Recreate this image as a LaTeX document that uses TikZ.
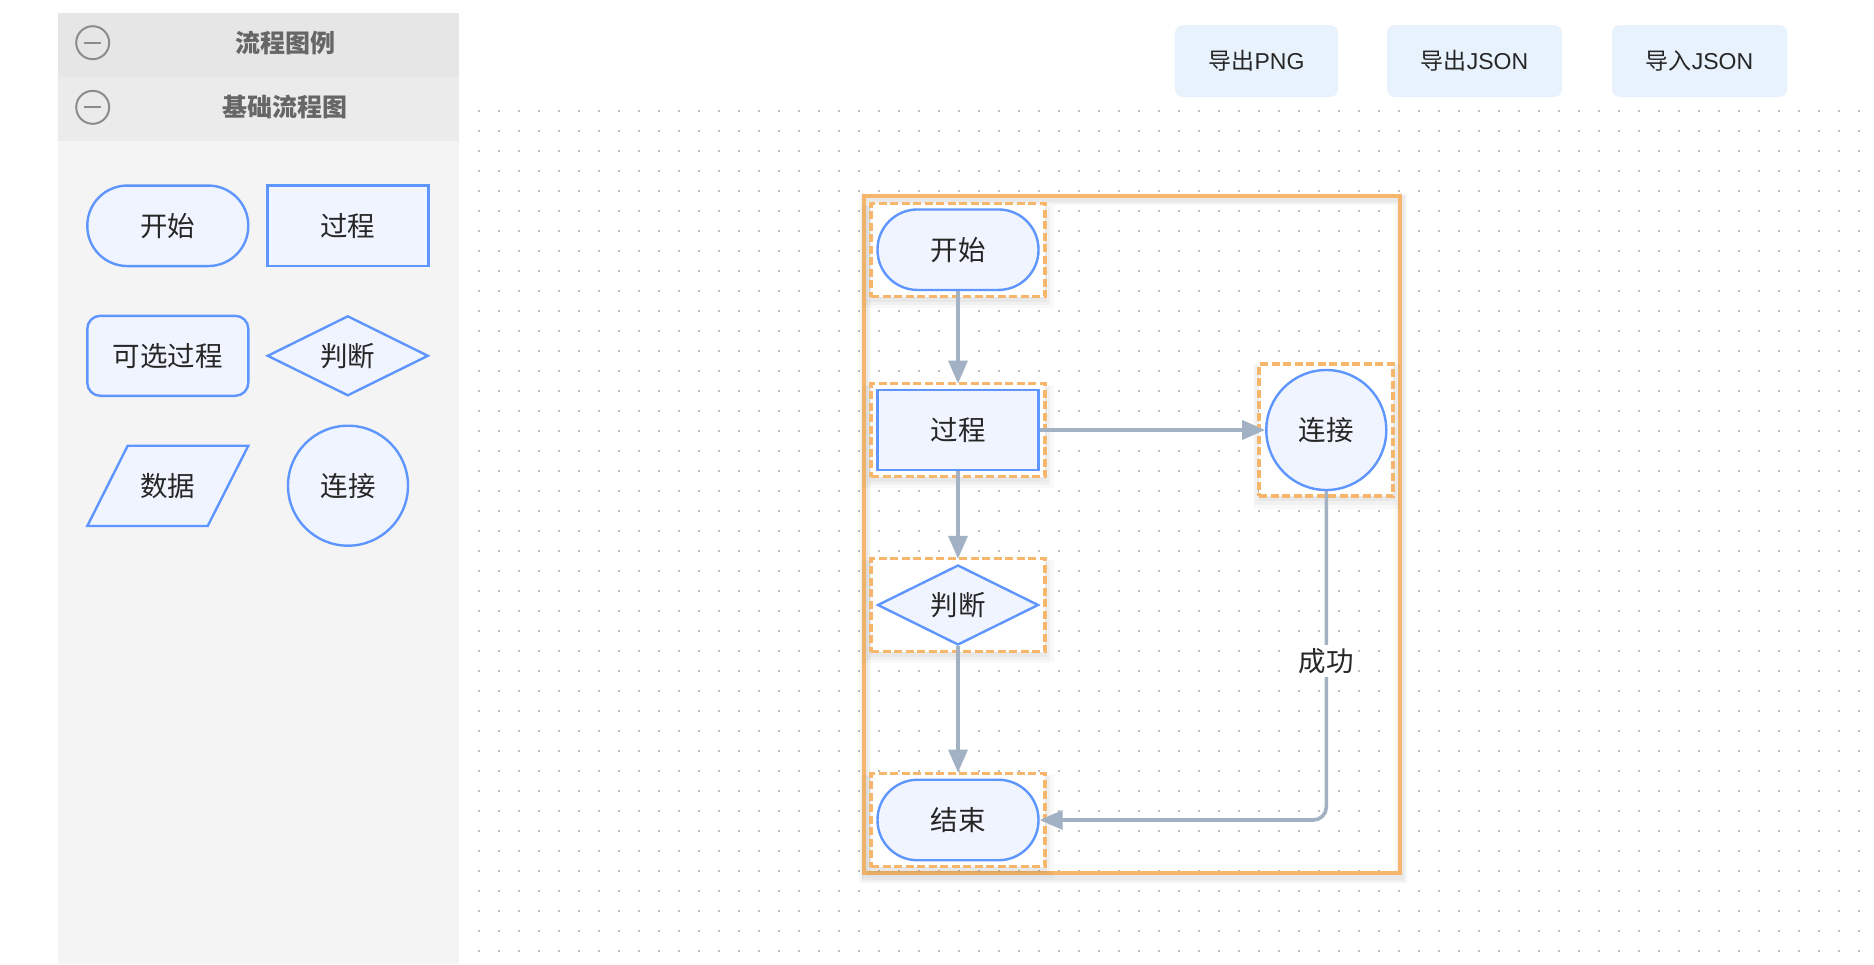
\documentclass[tikz,border=0pt]{standalone}
\usepackage{fontspec}
\setmainfont{Noto Sans CJK SC}
\newfontfamily\latfont{Liberation Sans}
\usetikzlibrary{shapes.geometric,arrows.meta,shadows}
\definecolor{nodefill}{HTML}{EFF4FF}
\definecolor{nodeline}{HTML}{5F95FF}
\definecolor{edgec}{HTML}{A2B1C3}
\definecolor{selc}{HTML}{F6B76C}
\definecolor{txt}{HTML}{262626}
\definecolor{hdrtxt}{HTML}{666666}
\definecolor{panelbg}{HTML}{F4F4F4}
\definecolor{hdrone}{HTML}{E6E6E6}
\definecolor{hdrtwo}{HTML}{EBEBEB}
\definecolor{btnbg}{HTML}{E8F2FC}
\definecolor{dotc}{HTML}{BBBBBB}
\definecolor{iconc}{HTML}{8C8C8C}
\begin{document}
\begin{tikzpicture}[x=1pt,y=-1pt,
  shapebase/.style={draw=nodeline, fill=nodefill, line width=2.4pt, text=txt,
    font=\fontsize{27.5}{32}\selectfont, inner sep=0pt},
  terminal/.style={shapebase, rectangle, rounded corners=40pt, minimum width=161pt, minimum height=80.5pt},
  procbox/.style={shapebase, rectangle, minimum width=161pt, minimum height=80.5pt},
  altbox/.style={shapebase, rectangle, rounded corners=13pt, minimum width=161pt, minimum height=80pt},
  decbox/.style={shapebase, diamond, aspect=2, minimum width=161pt, minimum height=80pt},
  connbox/.style={shapebase, circle, minimum size=120pt},
  selbox/.style={draw=selc, fill=white, line width=3.8pt, dash pattern=on 8pt off 3.5pt, inner sep=0pt,
    general shadow={fill=black, opacity=0.035, shadow yshift=-4pt, shadow scale=1.02},
    general shadow={fill=black, opacity=0.03, shadow yshift=-5pt, shadow scale=1.06},
    general shadow={fill=black, opacity=0.025, shadow yshift=-6pt, shadow scale=1.10}},
  flowarrow/.style={draw=edgec, line width=3.6pt, -{Triangle[length=23pt,width=19pt]}},
  btn/.style={fill=btnbg, rounded corners=8pt, minimum height=72pt, text=txt,
    font=\fontsize{23}{26}\selectfont, inner sep=0pt},
  hdr/.style={text=hdrtxt, font=\fontsize{25}{28}\selectfont\bfseries},
  icon/.style={draw=iconc, line width=2pt},
  lbl/.style={text=txt, font=\fontsize{27.5}{32}\selectfont}
]
\useasboundingbox (0,0) rectangle (1874,964);
\fill[white] (0,0) rectangle (1874,964);

% left panel
\fill[panelbg] (58.3,13.3) rectangle (459,964);
\fill[hdrone] (58.3,13.3) rectangle (459,76.7);
\fill[hdrtwo] (58.3,76.7) rectangle (459,141);
\node[icon, circle, minimum size=33pt, inner sep=0pt] (icona) at (92.7,42.7) {};
\draw[icon] ([xshift=-8.5pt]icona.center) -- ([xshift=8.5pt]icona.center);
\node[icon, circle, minimum size=33pt, inner sep=0pt] (iconb) at (92.7,107.3) {};
\draw[icon] ([xshift=-8.5pt]iconb.center) -- ([xshift=8.5pt]iconb.center);
\node[hdr] (titlea) at (285,42.7) {流程图例};
\node[hdr] (titleb) at (285,107.3) {基础流程图};

% legend shapes
\node[terminal] (lgstart) at (167.8,225.8) {开始};
\node[procbox] (lgproc) at (347.8,225.8) {过程};
\node[altbox] (lgalt) at (167.8,355.8) {可选过程};
\node[decbox] (lgdec) at (347.8,355.8) {判断};
\filldraw[shapebase] (127.7,445.7) -- (248.3,445.7) -- (207.7,526) -- (87.3,526) -- cycle;
\node[lbl] (lgdata) at (167.8,485.8) {数据};
\node[connbox] (lgconn) at (348,485.7) {连接};

% buttons
\node[btn, minimum width=163pt] (btnpng) at (1256.5,61) {导出{\latfont PNG}};
\node[btn, minimum width=175pt] (btnjsonout) at (1474.5,61) {导出{\latfont JSON}};
\node[btn, minimum width=175pt] (btnjsonin) at (1699.5,61) {导入{\latfont JSON}};

% dot grid
\foreach \i in {0,...,69} {
  \foreach \j in {0,...,42} {
    \fill[dotc] (478+\i*20,110+\j*20) rectangle ++(2,2);
  }
}

% outer selection frame with soft shadow
\foreach \w/\o in {12/0.025,9/0.03,6/0.035} {
  \draw[black, opacity=\o, line width=\w pt] (865,199) rectangle (1401,877);
}
\draw[selc, line width=3.8pt] (864,195.7) rectangle (1400,873.3);

% selection boxes
\node[selbox, minimum width=174pt, minimum height=93pt] (startsel) at (958,250) {};
\node[selbox, minimum width=174pt, minimum height=93pt] (procsel) at (958,430) {};
\node[selbox, minimum width=174pt, minimum height=93pt] (decsel) at (958,605) {};
\node[selbox, minimum width=174pt, minimum height=93pt] (endsel) at (958,820) {};
\node[selbox, minimum width=134pt, minimum height=132pt] (connsel) at (1326.3,430) {};

% flow nodes
\node[terminal] (start) at (958,249.7) {开始};
\node[procbox] (proc) at (958,430) {过程};
\node[decbox] (dec) at (958,605) {判断};
\node[terminal] (end) at (958,820) {结束};
\node[connbox] (conn) at (1326.3,430) {连接};

% connectors
\draw[flowarrow, shorten >=5pt] (start.south) -- (proc.north);
\draw[flowarrow] (proc.east) -- (conn.west);
\draw[flowarrow, shorten >=5pt] (proc.south) -- (dec.north);
\draw[flowarrow, shorten >=6pt] (dec.south) -- (end.north);
\draw[flowarrow, rounded corners=13pt] (conn.south) |- node[pos=0.258, fill=white, lbl, inner sep=3pt, rounded corners=0pt] (oklabel) {成功} (end.east);
\end{tikzpicture}
\end{document}
